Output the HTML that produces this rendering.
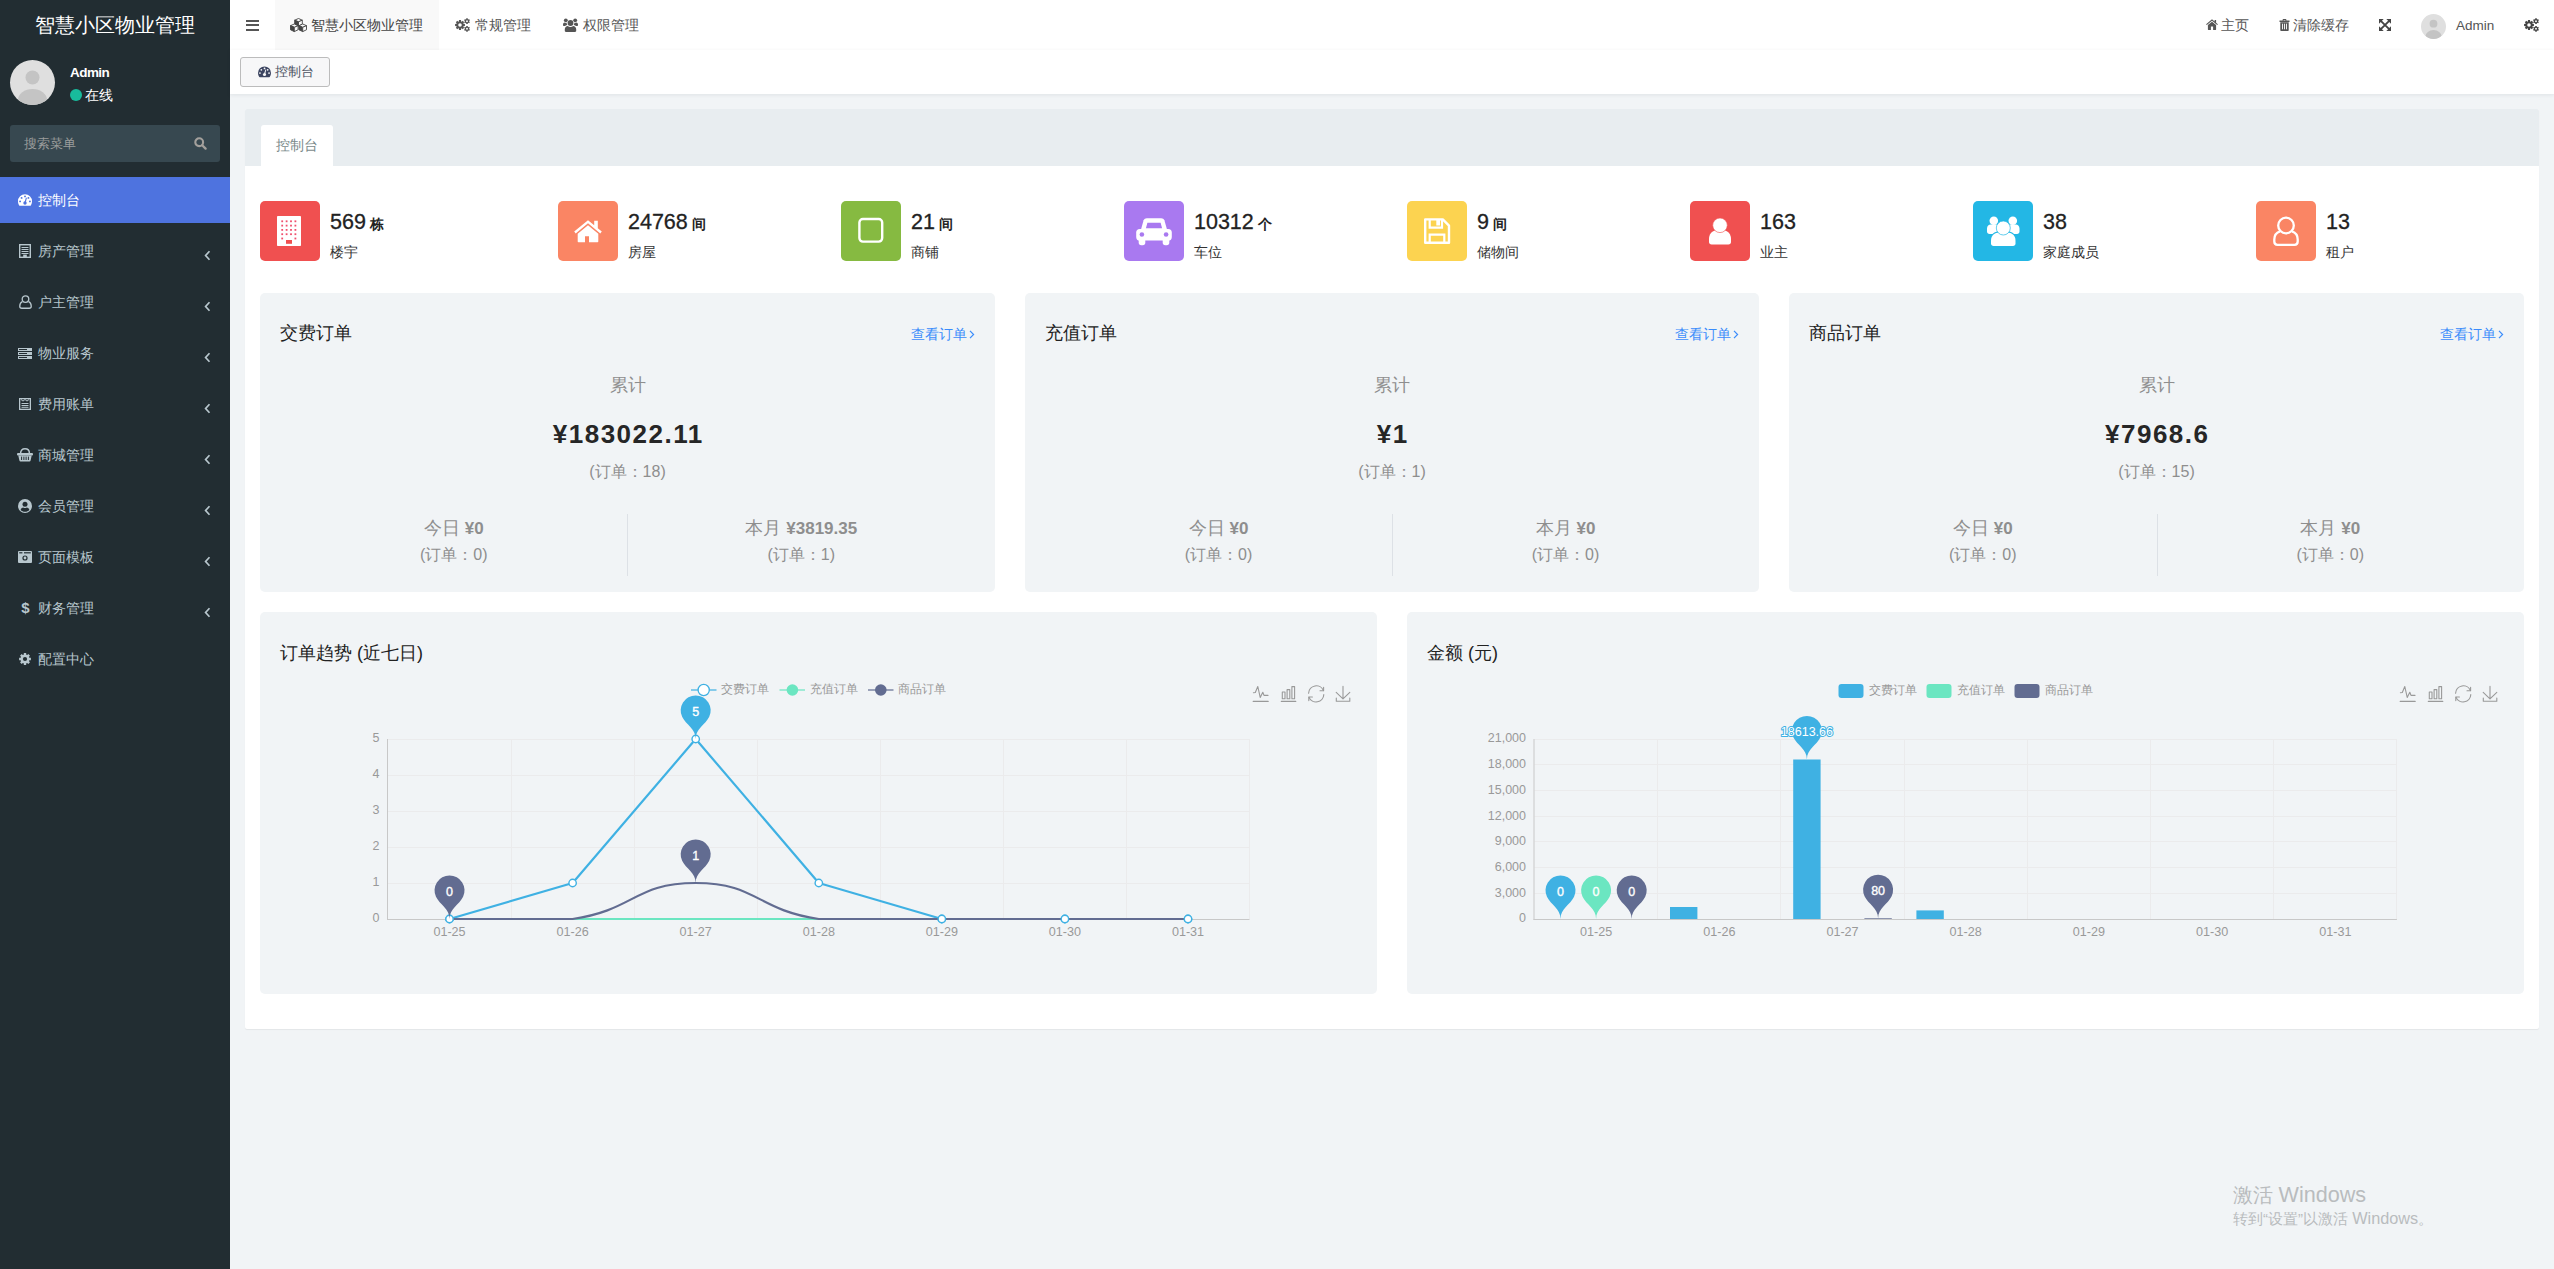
<!DOCTYPE html>
<html><head><meta charset="utf-8"><title>dashboard</title><style>
*{box-sizing:border-box;margin:0;padding:0}
html,body{width:2554px;height:1269px;overflow:hidden}
body{font-family:"Liberation Sans",sans-serif;font-size:14px;color:#333;background:#f1f4f6;position:relative}
.abs{position:absolute}
.t{position:absolute;white-space:nowrap;line-height:1}
svg{position:absolute;overflow:visible}
#side{position:absolute;left:0;top:0;width:230px;height:1269px;background:#222d32}
#hdr{position:absolute;left:230px;top:0;width:2324px;height:50px;background:#fff}
#tabs{position:absolute;left:230px;top:50px;width:2324px;height:44px;background:#fff;box-shadow:0 1px 4px rgba(0,21,41,.08)}
.mi{position:absolute;left:0;width:230px;height:46px}
.mi .t{color:#b8c7ce;font-size:14px;left:37.5px;top:16px}
.mi.act{background:#4e73df}
.mi.act .t{color:#fff}
.card{position:absolute;background:#f1f4f6;border-radius:5px}
.ib{position:absolute;width:60px;height:60px;border-radius:5px;top:201px}
.num{position:absolute;white-space:nowrap;line-height:1;font-size:21.5px;color:#222;top:211.5px;-webkit-text-stroke:0.3px #222}
.num small{font-size:14px;font-weight:bold;margin-left:4px;-webkit-text-stroke:0}
.lab{position:absolute;white-space:nowrap;line-height:1;font-size:14px;color:#333;top:245px}
.g{color:#8e8e8e}
</style></head><body>
<div id="side">
<div class="t" style="left:35px;top:14.6px;font-size:20px;color:#fff;width:160px;text-align:center">智慧小区物业管理</div>
<div class="abs" style="left:10px;top:60px;width:45px;height:45px;border-radius:50%;overflow:hidden;background:#dfdfdf"><svg style="left:0;top:0" width="45" height="45" viewBox="0 0 45 45"><g fill="#c4c4c4"><circle cx="22.5" cy="17.5" r="7"/><ellipse cx="22.5" cy="40" rx="14.5" ry="11"/></g></svg></div>
<div class="t" style="left:70px;top:66px;font-size:13.5px;font-weight:bold;color:#fff;letter-spacing:-0.55px">Admin</div>
<div class="abs" style="left:70px;top:89px;width:12px;height:12px;border-radius:6px;background:#18bc9c"></div>
<div class="t" style="left:85px;top:88px;font-size:14px;color:#fff">在线</div>
<div class="abs" style="left:10px;top:125px;width:210px;height:37px;background:#374850;border-radius:3px"></div>
<div class="t" style="left:24px;top:137px;font-size:13px;color:#9b9d9c">搜索菜单</div>
<svg style="left:194px;top:137px" width="13" height="13" viewBox="0 0 13 13"><circle cx="5.2" cy="5.2" r="3.9" fill="none" stroke="#a3a09c" stroke-width="2.1"/><path d="M8.2 8.2L11.6 11.6" stroke="#a3a09c" stroke-width="2.3" stroke-linecap="round"/></svg>
<div class="mi act" style="top:177px"><svg style="left:18px;top:17px" width="14" height="12" viewBox="0 0 14 12"><path d="M7 0.3A7 7 0 0 0 0 7.3C0 8.9 0.45 10.3 1.2 11.4C1.35 11.65 1.6 11.8 1.9 11.8H12.1C12.4 11.8 12.65 11.65 12.8 11.4C13.55 10.3 14 8.9 14 7.3A7 7 0 0 0 7 0.3Z" fill="#fff"/><g fill="#4e73df"><circle cx="2.1" cy="7.4" r="0.95"/><circle cx="3.6" cy="3.9" r="0.95"/><circle cx="7" cy="2.4" r="0.95"/><circle cx="10.4" cy="3.9" r="0.95"/><circle cx="11.9" cy="7.4" r="0.95"/><circle cx="7" cy="9" r="1.7"/><path d="M6.5 8.2L8.0 3.6L8.9 3.9L7.7 8.6Z"/></g></svg><div class="t">控制台</div>
</div>
<div class="mi" style="top:228px"><svg style="left:19px;top:16px" width="12" height="14" viewBox="0 0 12 14"><rect x="0.7" y="0.7" width="10.6" height="12.6" fill="none" stroke="#b8c7ce" stroke-width="1.4"/><g stroke="#b8c7ce" stroke-width="1"><path d="M2.5 3.5 h7"/><path d="M2.5 5.5 h7"/><path d="M2.5 7.5 h7"/><path d="M2.5 9.5 h7"/></g><rect x="4.2" y="10.6" width="3.6" height="2.6" fill="#b8c7ce"/></svg><div class="t">房产管理</div>
<svg style="left:204px;top:22.4px" width="7" height="11" viewBox="0 0 7 11"><path d="M5.5 1.2L1.6 5.5L5.5 9.800" fill="none" stroke="#b8c7ce" stroke-width="1.700"/></svg>
</div>
<div class="mi" style="top:279px"><svg style="left:18.5px;top:16px" width="13" height="14" viewBox="0 0 13 14"><g fill="none" stroke="#b8c7ce" stroke-width="1.3"><circle cx="6.5" cy="4.1" r="3.3"/><path d="M3.4 6.6C1.6 7.3 0.75 9 0.75 11.2C0.75 12.5 1.6 13.25 2.8 13.25H10.2C11.4 13.25 12.25 12.5 12.25 11.2C12.25 9 11.4 7.3 9.6 6.6"/></g></svg><div class="t">户主管理</div>
<svg style="left:204px;top:22.4px" width="7" height="11" viewBox="0 0 7 11"><path d="M5.5 1.2L1.6 5.5L5.5 9.800" fill="none" stroke="#b8c7ce" stroke-width="1.700"/></svg>
</div>
<div class="mi" style="top:330px"><svg style="left:18px;top:17.5px" width="14" height="11" viewBox="0 0 14 11"><rect x="0" y="0" width="14" height="3" fill="#b8c7ce"/><rect x="1" y="1" width="8" height="1" fill="#222d32"/><rect x="0" y="4" width="14" height="3" fill="#b8c7ce"/><rect x="1" y="5" width="8" height="1" fill="#222d32"/><rect x="0" y="8" width="14" height="3" fill="#b8c7ce"/><rect x="1" y="9" width="8" height="1" fill="#222d32"/></svg><div class="t">物业服务</div>
<svg style="left:204px;top:22.4px" width="7" height="11" viewBox="0 0 7 11"><path d="M5.5 1.2L1.6 5.5L5.5 9.800" fill="none" stroke="#b8c7ce" stroke-width="1.700"/></svg>
</div>
<div class="mi" style="top:381px"><svg style="left:19px;top:17px" width="12" height="12" viewBox="0 0 12 12"><rect x="0.65" y="0.65" width="10.7" height="10.7" fill="none" stroke="#b8c7ce" stroke-width="1.3"/><path d="M2 1.5l2 1.6l2-1.6l2 1.6l2-1.6" fill="none" stroke="#b8c7ce" stroke-width="1"/><path d="M2.5 5.5h7M2.5 7.5h7M2.5 9.3h7" stroke="#b8c7ce" stroke-width="1"/></svg><div class="t">费用账单</div>
<svg style="left:204px;top:22.4px" width="7" height="11" viewBox="0 0 7 11"><path d="M5.5 1.2L1.6 5.5L5.5 9.800" fill="none" stroke="#b8c7ce" stroke-width="1.700"/></svg>
</div>
<div class="mi" style="top:432px"><svg style="left:17px;top:16.3px" width="16" height="13.5" viewBox="0 0 16 13.5"><path d="M3.6 5.2C3.6 2.3 5.2 0.8 8 0.8S12.4 2.3 12.4 5.2" fill="none" stroke="#b8c7ce" stroke-width="1.5"/><rect x="0" y="5" width="16" height="2.4" rx="1" fill="#b8c7ce"/><path d="M1.3 7.4H14.7L13.6 12.6C13.5 13.2 13 13.5 12.5 13.5H3.5C3 13.5 2.5 13.2 2.4 12.6Z" fill="#b8c7ce"/><g stroke="#222d32" stroke-width="1"><path d="M4.6 8.6v3.4M6.9 8.6v3.4M9.1 8.6v3.4M11.4 8.6v3.4"/></g></svg><div class="t">商城管理</div>
<svg style="left:204px;top:22.4px" width="7" height="11" viewBox="0 0 7 11"><path d="M5.5 1.2L1.6 5.5L5.5 9.800" fill="none" stroke="#b8c7ce" stroke-width="1.700"/></svg>
</div>
<div class="mi" style="top:483px"><svg style="left:18px;top:16px" width="14" height="14" viewBox="0 0 14 14"><circle cx="7" cy="7" r="7" fill="#b8c7ce"/><circle cx="7" cy="5.3" r="2.5" fill="#222d32"/><path d="M2.6 10.9C3 9.3 4.2 8.6 5.2 8.5C5.7 8.9 6.3 9.1 7 9.1S8.3 8.9 8.8 8.5C9.8 8.6 11 9.3 11.4 10.9C10.3 12 8.8 12.7 7 12.7S3.7 12 2.6 10.9Z" fill="#222d32"/></svg><div class="t">会员管理</div>
<svg style="left:204px;top:22.4px" width="7" height="11" viewBox="0 0 7 11"><path d="M5.5 1.2L1.6 5.5L5.5 9.800" fill="none" stroke="#b8c7ce" stroke-width="1.700"/></svg>
</div>
<div class="mi" style="top:534px"><svg style="left:18px;top:17px" width="14" height="12" viewBox="0 0 14 12"><rect x="0" y="0" width="14" height="12" rx="1" fill="#b8c7ce"/><rect x="1.2" y="1.2" width="3.2" height="1.2" fill="#222d32"/><rect x="6" y="1.2" width="6.8" height="1.2" fill="#222d32"/><rect x="0" y="3.2" width="14" height="0.8" fill="#222d32" opacity="0.0"/><circle cx="7" cy="7" r="2.6" fill="#222d32"/><circle cx="7" cy="7" r="1.4" fill="#b8c7ce"/><rect x="0" y="10.3" width="14" height="0.7" fill="#222d32" opacity="0.0"/></svg><div class="t">页面模板</div>
<svg style="left:204px;top:22.4px" width="7" height="11" viewBox="0 0 7 11"><path d="M5.5 1.2L1.6 5.5L5.5 9.800" fill="none" stroke="#b8c7ce" stroke-width="1.700"/></svg>
</div>
<div class="mi" style="top:585px"><svg style="left:21px;top:16px" width="9" height="14" viewBox="0 0 9 14"><text x="4.5" y="12.2" font-family="Liberation Sans, sans-serif" font-weight="bold" font-size="15" fill="#b8c7ce" text-anchor="middle">$</text></svg><div class="t">财务管理</div>
<svg style="left:204px;top:22.4px" width="7" height="11" viewBox="0 0 7 11"><path d="M5.5 1.2L1.6 5.5L5.5 9.800" fill="none" stroke="#b8c7ce" stroke-width="1.700"/></svg>
</div>
<div class="mi" style="top:636px"><svg style="left:19px;top:17px" width="12" height="12" viewBox="0 0 12 12"><path d="M4.87 0.11L7.13 0.11L7.29 1.69L8.14 2.04L9.37 1.03L10.97 2.63L9.96 3.86L10.31 4.71L11.89 4.87L11.89 7.13L10.31 7.29L9.96 8.14L10.97 9.37L9.37 10.97L8.14 9.96L7.29 10.31L7.13 11.89L4.87 11.89L4.71 10.31L3.86 9.96L2.63 10.97L1.03 9.37L2.04 8.14L1.69 7.29L0.11 7.13L0.11 4.87L1.69 4.71L2.04 3.86L1.03 2.63L2.63 1.03L3.86 2.04L4.71 1.69Z" fill="#b8c7ce"/><circle cx="6" cy="6" r="2.1" fill="#222d32"/></svg><div class="t">配置中心</div>
</div>
</div>
<div id="hdr">
<div class="abs" style="left:45px;top:0;width:164px;height:50px;background:#f9f9f9"></div>
<div class="abs" style="left:16px;top:20px;width:13px;height:2px;background:#555"></div>
<div class="abs" style="left:16px;top:24px;width:13px;height:2px;background:#555"></div>
<div class="abs" style="left:16px;top:29px;width:13px;height:2px;background:#555"></div>
<svg style="left:60px;top:18px" width="17" height="14" viewBox="0 0 17 14"><path d="M8.50 0.50 L12.30 2.17 L8.50 3.84 L4.70 2.17 Z" fill="#f9f9f9" stroke="#444" stroke-width="0.9" stroke-linejoin="round"/><path d="M4.70 2.17 L8.50 3.84 L8.50 8.10 L4.70 6.28 Z" fill="#444" stroke="#444" stroke-width="0.9" stroke-linejoin="round"/><path d="M12.30 2.17 L8.50 3.84 L8.50 8.10 L12.30 6.28 Z" fill="#f9f9f9" stroke="#444" stroke-width="0.9" stroke-linejoin="round"/><path d="M4.30 6.00 L8.10 7.67 L4.30 9.34 L0.50 7.67 Z" fill="#f9f9f9" stroke="#444" stroke-width="0.9" stroke-linejoin="round"/><path d="M0.50 7.67 L4.30 9.34 L4.30 13.60 L0.50 11.78 Z" fill="#444" stroke="#444" stroke-width="0.9" stroke-linejoin="round"/><path d="M8.10 7.67 L4.30 9.34 L4.30 13.60 L8.10 11.78 Z" fill="#f9f9f9" stroke="#444" stroke-width="0.9" stroke-linejoin="round"/><path d="M12.70 6.00 L16.50 7.67 L12.70 9.34 L8.90 7.67 Z" fill="#f9f9f9" stroke="#444" stroke-width="0.9" stroke-linejoin="round"/><path d="M8.90 7.67 L12.70 9.34 L12.70 13.60 L8.90 11.78 Z" fill="#444" stroke="#444" stroke-width="0.9" stroke-linejoin="round"/><path d="M16.50 7.67 L12.70 9.34 L12.70 13.60 L16.50 11.78 Z" fill="#f9f9f9" stroke="#444" stroke-width="0.9" stroke-linejoin="round"/></svg><svg style="left:225px;top:18px" width="15" height="14" viewBox="0 0 15 14"><path d="M4.01 2.10L5.99 2.10L6.16 3.49L6.66 3.69L7.76 2.83L9.17 4.24L8.31 5.34L8.51 5.84L9.90 6.01L9.90 7.99L8.51 8.16L8.31 8.66L9.17 9.76L7.76 11.17L6.66 10.31L6.16 10.51L5.99 11.90L4.01 11.90L3.84 10.51L3.34 10.31L2.24 11.17L0.83 9.76L1.69 8.66L1.49 8.16L0.10 7.99L0.10 6.01L1.49 5.84L1.69 5.34L0.83 4.24L2.24 2.83L3.34 3.69L3.84 3.49Z" fill="#555"/><circle cx="5" cy="7" r="1.8" fill="#fff"/><path d="M11.21 0.31L12.79 0.31L12.79 1.26L13.29 1.54L14.11 1.07L14.90 2.44L14.08 2.91L14.08 3.49L14.90 3.96L14.11 5.33L13.29 4.86L12.79 5.14L12.79 6.09L11.21 6.09L11.21 5.14L10.71 4.86L9.89 5.33L9.10 3.96L9.92 3.49L9.92 2.91L9.10 2.44L9.89 1.07L10.71 1.54L11.21 1.26Z" fill="#555"/><circle cx="12" cy="3.2" r="0.95" fill="#fff"/><path d="M11.21 7.91L12.79 7.91L12.79 8.86L13.29 9.14L14.11 8.67L14.90 10.04L14.08 10.51L14.08 11.09L14.90 11.56L14.11 12.93L13.29 12.46L12.79 12.74L12.79 13.69L11.21 13.69L11.21 12.74L10.71 12.46L9.89 12.93L9.10 11.56L9.92 11.09L9.92 10.51L9.10 10.04L9.89 8.67L10.71 9.14L11.21 8.86Z" fill="#555"/><circle cx="12" cy="10.8" r="0.95" fill="#fff"/></svg><svg style="left:333px;top:18px" width="15" height="14" viewBox="0 0 15 14"><g fill="#555"><circle cx="7.5" cy="5" r="2.9"/><path d="M2.9 14C2.2 14 1.8 13.5 1.8 12.8V11.2C1.8 9.2 3.2 8 4.8 7.9C5.5 8.6 6.4 9 7.5 9S9.5 8.6 10.2 7.9C11.8 8 13.2 9.2 13.2 11.2V12.8C13.2 13.5 12.8 14 12.1 14Z"/><circle cx="2.8" cy="2.3" r="1.9"/><circle cx="12.2" cy="2.3" r="1.9"/><path d="M0 6.6C0 5.2 0.9 4.5 1.7 4.5C2.2 4.9 2.9 5 3.6 4.8C3.6 5.6 3.9 6.5 4.4 7.1C3.4 7.2 2.6 7.6 2.1 8.1H1C0.4 8.100 0 7.7 0 7.1Z"/><path d="M15 6.6C15 5.2 14.1 4.5 13.3 4.5C12.8 4.9 12.1 5 11.4 4.8C11.4 5.6 11.1 6.5 10.6 7.1C11.6 7.2 12.4 7.6 12.9 8.1H14C14.6 8.1 15 7.7 15 7.1Z"/></g></svg><svg style="left:1976px;top:19px" width="12" height="11" viewBox="0 0 12 11"><g fill="#555"><path d="M6 2.7L1.9 6.1V10.4C1.9 10.7 2.1 10.9 2.4 10.9H4.9V7.6H7.1V10.9H9.6C9.900 10.9 10.1 10.7 10.1 10.4V6.1Z"/><path d="M6 0.3L0.1 5.2L0.800 6L6 1.700L11.2 6L11.9 5.2L10.1 3.700V0.9H8.6V2.4Z"/></g></svg><svg style="left:2049px;top:19px" width="11" height="12" viewBox="0 0 11 12"><g fill="#555"><path d="M3.600 1.100C3.600 0.500 4.100 0.100 4.600 0.100H6.400C6.900 0.100 7.400 0.500 7.400 1.100V1.600H10.5V2.900H0.5V1.600H3.600ZM4.600 1.600H6.400V1.100H4.600Z"/><path d="M1.300 3.300H9.700V11C9.700 11.6 9.300 12 8.700 12H2.300C1.700 12 1.300 11.6 1.300 11Z"/></g><g fill="#fff"><rect x="3.100" y="4.700" width="0.9" height="5.6"/><rect x="5.050" y="4.700" width="0.9" height="5.6"/><rect x="7.000" y="4.700" width="0.9" height="5.6"/></g></svg><svg style="left:2149px;top:19px" width="12" height="12" viewBox="0 0 12 12"><g fill="#444"><path d="M0 0H4.700L0 4.700Z"/><path d="M12 0V4.700L7.300 0Z"/><path d="M0 12V7.300L4.700 12Z"/><path d="M12 12H7.300L12 7.300Z"/></g><path d="M1.800 1.800L10.200 10.200M10.200 1.800L1.800 10.200" stroke="#444" stroke-width="1.900" fill="none"/></svg><svg style="left:2294px;top:18px" width="15" height="14" viewBox="0 0 15 14"><path d="M4.01 2.10L5.99 2.10L6.16 3.49L6.66 3.69L7.76 2.83L9.17 4.24L8.31 5.34L8.51 5.84L9.90 6.01L9.90 7.99L8.51 8.16L8.31 8.66L9.17 9.76L7.76 11.17L6.66 10.31L6.16 10.51L5.99 11.90L4.01 11.90L3.84 10.51L3.34 10.31L2.24 11.17L0.83 9.76L1.69 8.66L1.49 8.16L0.10 7.99L0.10 6.01L1.49 5.84L1.69 5.34L0.83 4.24L2.24 2.83L3.34 3.69L3.84 3.49Z" fill="#444"/><circle cx="5" cy="7" r="1.8" fill="#fff"/><path d="M11.21 0.31L12.79 0.31L12.79 1.26L13.29 1.54L14.11 1.07L14.90 2.44L14.08 2.91L14.08 3.49L14.90 3.96L14.11 5.33L13.29 4.86L12.79 5.14L12.79 6.09L11.21 6.09L11.21 5.14L10.71 4.86L9.89 5.33L9.10 3.96L9.92 3.49L9.92 2.91L9.10 2.44L9.89 1.07L10.71 1.54L11.21 1.26Z" fill="#444"/><circle cx="12" cy="3.2" r="0.95" fill="#fff"/><path d="M11.21 7.91L12.79 7.91L12.79 8.86L13.29 9.14L14.11 8.67L14.90 10.04L14.08 10.51L14.08 11.09L14.90 11.56L14.11 12.93L13.29 12.46L12.79 12.74L12.79 13.69L11.21 13.69L11.21 12.74L10.71 12.46L9.89 12.93L9.10 11.56L9.92 11.09L9.92 10.51L9.10 10.04L9.89 8.67L10.71 9.14L11.21 8.86Z" fill="#444"/><circle cx="12" cy="10.8" r="0.95" fill="#fff"/></svg>
<div class="t" style="left:81px;top:18px;font-size:14px;color:#444">智慧小区物业管理</div>
<div class="t" style="left:245px;top:18px;font-size:14px;color:#555">常规管理</div>
<div class="t" style="left:353px;top:18px;font-size:14px;color:#555">权限管理</div>
<div class="t" style="left:1991px;top:18px;font-size:14px;color:#555">主页</div>
<div class="t" style="left:2063px;top:18px;font-size:14px;color:#555">清除缓存</div>
<div class="abs" style="left:2191px;top:14px;width:25px;height:25px;border-radius:50%;overflow:hidden;background:#dfdfdf"><svg style="left:0;top:0" width="25" height="25" viewBox="0 0 25 25"><g fill="#c4c4c4"><circle cx="12.5" cy="9.7" r="3.9"/><ellipse cx="12.5" cy="22.2" rx="8" ry="6.1"/></g></svg></div>
<div class="t" style="left:2226px;top:18.7px;font-size:13.5px;color:#555">Admin</div>
</div>
<div id="tabs">
<div class="abs" style="left:10px;top:7px;width:90px;height:30px;border:1px solid #bcbcbc;border-radius:3px;background:#f7f7f8"></div>
<svg style="left:27.5px;top:16px" width="13" height="11.5" viewBox="0 0 14 12"><path d="M7 0.3A7 7 0 0 0 0 7.3C0 8.9 0.45 10.3 1.2 11.4C1.35 11.65 1.6 11.8 1.9 11.8H12.1C12.4 11.8 12.65 11.65 12.8 11.4C13.55 10.3 14 8.9 14 7.3A7 7 0 0 0 7 0.3Z" fill="#3c4460"/><g fill="#f7f7f8"><circle cx="2.1" cy="7.4" r="0.95"/><circle cx="3.6" cy="3.9" r="0.95"/><circle cx="7" cy="2.4" r="0.95"/><circle cx="10.4" cy="3.9" r="0.95"/><circle cx="11.9" cy="7.4" r="0.95"/><circle cx="7" cy="9" r="1.7"/><path d="M6.5 8.2L8.0 3.6L8.9 3.9L7.7 8.6Z"/></g></svg><div class="t" style="left:45px;top:15px;font-size:13px;color:#495060">控制台</div>
</div>
<div class="abs" style="left:245px;top:109px;width:2294px;height:920px;background:#fff;border-radius:2px;box-shadow:0 1px 1px rgba(0,0,0,.06)"></div>
<div class="abs" style="left:245px;top:109px;width:2294px;height:57px;background:#e8edf0;border-radius:2px 2px 0 0"></div>
<div class="abs" style="left:261px;top:125px;width:72px;height:41px;background:#fff;border-radius:3px 3px 0 0"></div>
<div class="t" style="left:276px;top:138px;font-size:14px;color:#7b8a8b">控制台</div>
<div class="ib" style="left:260px;background:#f05050"><svg style="left:0px;top:0px" width="60" height="60" viewBox="0 0 60 60"><rect x="17" y="15" width="24" height="30" rx="0.8" fill="#fff"/><g fill="#f0506e"><rect x="21.3" y="19.4" width="1.800" height="1.800"/><rect x="25.7" y="19.4" width="1.800" height="1.800"/><rect x="30.1" y="19.4" width="1.800" height="1.800"/><rect x="34.5" y="19.4" width="1.800" height="1.800"/><rect x="21.3" y="23.7" width="1.800" height="1.800"/><rect x="25.7" y="23.7" width="1.800" height="1.800"/><rect x="30.1" y="23.7" width="1.800" height="1.800"/><rect x="34.5" y="23.7" width="1.800" height="1.800"/><rect x="21.3" y="28.0" width="1.800" height="1.800"/><rect x="25.7" y="28.0" width="1.800" height="1.800"/><rect x="30.1" y="28.0" width="1.800" height="1.800"/><rect x="34.5" y="28.0" width="1.800" height="1.800"/><rect x="21.3" y="32.3" width="1.800" height="1.800"/><rect x="25.7" y="32.3" width="1.800" height="1.800"/><rect x="30.1" y="32.3" width="1.800" height="1.800"/><rect x="34.5" y="32.3" width="1.800" height="1.800"/><rect x="21.3" y="36.6" width="1.800" height="1.800"/><rect x="34.5" y="36.6" width="1.800" height="1.800"/></g><rect x="26" y="39" width="6" height="3.800" fill="#f05050"/></svg></div>
<div class="num" style="left:330px">569<small>栋</small></div>
<div class="lab" style="left:330px">楼宇</div>
<div class="ib" style="left:558px;background:#fa8564"><svg style="left:0px;top:0px" width="60" height="60" viewBox="0 0 60 60"><g fill="#fff"><path d="M30 24.300L19.700 32.800V40.600C19.700 41 20 41.300 20.400 41.300H27V35.300H31V41.300H39.600C40 41.300 40.300 41 40.300 40.600V32.800Z"/><path d="M30 19.200L16.200 30.600L17.700 32.400L30 22.200L42.300 32.400L43.800 30.600L39.800 27.300V19.800H36.200V24.300Z"/></g></svg></div>
<div class="num" style="left:628px">24768<small>间</small></div>
<div class="lab" style="left:628px">房屋</div>
<div class="ib" style="left:841px;background:#86ba41"><svg style="left:0px;top:0px" width="60" height="60" viewBox="0 0 60 60"><rect x="18.400" y="18.000" width="22.800" height="22.600" rx="3.500" fill="none" stroke="#fff" stroke-width="2.400"/></svg></div>
<div class="num" style="left:911px">21<small>间</small></div>
<div class="lab" style="left:911px">商铺</div>
<div class="ib" style="left:1124px;background:#a979f0"><svg style="left:0px;top:0px" width="60" height="60" viewBox="0 0 60 60"><g fill="#fff"><path d="M19.600 19.300C20.200 17.900 21.300 17.200 22.800 17.200H37.200C38.700 17.200 39.800 17.900 40.400 19.300L43 28.500H17Z"/><rect x="12.200" y="28" width="35.600" height="11.500" rx="3.600"/><rect x="14.700" y="37" width="6.600" height="7.200" rx="2.600"/><rect x="38.700" y="37" width="6.600" height="7.200" rx="2.600"/></g><path d="M23.400 21.700H36.600L38.100 27.300H21.900Z" fill="#a979f0"/><circle cx="17.900" cy="33.500" r="2.300" fill="#a979f0"/><circle cx="42.100" cy="33.500" r="2.300" fill="#a979f0"/></svg></div>
<div class="num" style="left:1194px">10312<small>个</small></div>
<div class="lab" style="left:1194px">车位</div>
<div class="ib" style="left:1407px;background:#fcd350"><svg style="left:0px;top:0px" width="60" height="60" viewBox="0 0 60 60"><path d="M18.200 18.400H35.800L42 24.600V41.700H18.200Z" fill="none" stroke="#fff" stroke-width="2.400" stroke-linejoin="round"/><path d="M22.700 18.400V26.600H35V18.400" fill="none" stroke="#fff" stroke-width="2.200"/><rect x="29.300" y="19" width="3.700" height="5.500" fill="#fff"/><path d="M22.700 41.700V33.600H37.300V41.700" fill="none" stroke="#fff" stroke-width="2.200"/></svg></div>
<div class="num" style="left:1477px">9<small>间</small></div>
<div class="lab" style="left:1477px">储物间</div>
<div class="ib" style="left:1690px;background:#f05050"><svg style="left:0px;top:0px" width="60" height="60" viewBox="0 0 60 60"><g fill="#fff"><path d="M21.600 43.500C20 43.500 19 42.500 19 41V38C19 33.300 22 30 26 29.300H34C38 30 41 33.300 41 38V41C41 42.500 40 43.500 38.400 43.500Z"/><circle cx="30" cy="24.300" r="7.300" stroke="#f05050" stroke-width="0.6"/></g></svg></div>
<div class="num" style="left:1760px">163</div>
<div class="lab" style="left:1760px">业主</div>
<div class="ib" style="left:1973px;background:#23b7e5"><svg style="left:0px;top:0px" width="60" height="60" viewBox="0 0 60 60"><g fill="#fff"><circle cx="20.800" cy="19.800" r="4.300"/><circle cx="39.800" cy="19.800" r="4.300"/><path d="M14 27.500C14 24.800 16 23.500 17.500 23.500H24V30.500C22 31 20.500 31.800 19.500 33H16.500C15 33 14 32 14 30.500Z"/><path d="M46.500 27.500C46.500 24.800 44.500 23.500 43 23.500H36.500V30.500C38.500 31 40 31.800 41 33H44C45.500 33 46.500 32 46.500 30.500Z"/><path d="M20.500 45C19 45 18 44 18 42.500V39.500C18 35 21 32.300 24.500 31.800H36C39.500 32.300 42.500 35 42.500 39.500V42.500C42.500 44 41.500 45 40 45Z"/><circle cx="30.300" cy="27" r="7" stroke="#23b7e5" stroke-width="0.700"/></g></svg></div>
<div class="num" style="left:2043px">38</div>
<div class="lab" style="left:2043px">家庭成员</div>
<div class="ib" style="left:2256px;background:#fa8564"><svg style="left:0px;top:0px" width="60" height="60" viewBox="0 0 60 60"><g fill="none" stroke="#fff" stroke-width="2.300"><circle cx="30" cy="24.500" r="7.800"/><path d="M24 30.300C20.500 31.500 18.300 34.500 18.300 38.500V40.500C18.300 42.500 19.500 43.800 21.500 43.800H38.500C40.500 43.800 41.700 42.500 41.700 40.500V38.500C41.700 34.500 39.500 31.500 36 30.300"/></g></svg></div>
<div class="num" style="left:2326px">13</div>
<div class="lab" style="left:2326px">租户</div>
<div class="card" style="left:260px;top:293px;width:735px;height:299px">
<div class="t" style="left:20px;top:31px;font-size:18px;color:#222">交费订单</div>
<div class="t" style="right:28px;top:34px;font-size:14px;color:#3a8cfb">查看订单</div>
<svg style="right:20.2px;top:36.6px" width="5.5" height="9" viewBox="0 0 5.5 9"><path d="M1 0.8L4.6 4.5L1 8.2" fill="none" stroke="#3a8cfb" stroke-width="1.2"/></svg>
<div class="t g" style="left:0;width:735px;text-align:center;top:83px;font-size:18px">累计</div>
<div class="t" style="left:0;width:735px;text-align:center;top:128px;font-size:26px;font-weight:bold;color:#262626;letter-spacing:1.5px;text-indent:1.5px">¥183022.11</div>
<div class="t g" style="left:0;width:735px;text-align:center;top:171px;font-size:16px">(订单：18)</div>
<div class="abs" style="left:367.0px;top:221px;width:1px;height:62px;background:#dde1e6"></div>
<div class="t g" style="left:20px;width:347.5px;text-align:center;top:226px;font-size:18px">今日 <b style="font-size:17px">¥0</b></div>
<div class="t g" style="left:20px;width:347.5px;text-align:center;top:254px;font-size:16px">(订单：0)</div>
<div class="t g" style="left:367.5px;width:347.5px;text-align:center;top:226px;font-size:18px">本月 <b style="font-size:17px">¥3819.35</b></div>
<div class="t g" style="left:367.5px;width:347.5px;text-align:center;top:254px;font-size:16px">(订单：1)</div>
</div>
<div class="card" style="left:1025px;top:293px;width:734px;height:299px">
<div class="t" style="left:20px;top:31px;font-size:18px;color:#222">充值订单</div>
<div class="t" style="right:28px;top:34px;font-size:14px;color:#3a8cfb">查看订单</div>
<svg style="right:20.2px;top:36.6px" width="5.5" height="9" viewBox="0 0 5.5 9"><path d="M1 0.8L4.6 4.5L1 8.2" fill="none" stroke="#3a8cfb" stroke-width="1.2"/></svg>
<div class="t g" style="left:0;width:734px;text-align:center;top:83px;font-size:18px">累计</div>
<div class="t" style="left:0;width:734px;text-align:center;top:128px;font-size:26px;font-weight:bold;color:#262626;letter-spacing:1.5px;text-indent:1.5px">¥1</div>
<div class="t g" style="left:0;width:734px;text-align:center;top:171px;font-size:16px">(订单：1)</div>
<div class="abs" style="left:367.0px;top:221px;width:1px;height:62px;background:#dde1e6"></div>
<div class="t g" style="left:20px;width:347.0px;text-align:center;top:226px;font-size:18px">今日 <b style="font-size:17px">¥0</b></div>
<div class="t g" style="left:20px;width:347.0px;text-align:center;top:254px;font-size:16px">(订单：0)</div>
<div class="t g" style="left:367.0px;width:347.0px;text-align:center;top:226px;font-size:18px">本月 <b style="font-size:17px">¥0</b></div>
<div class="t g" style="left:367.0px;width:347.0px;text-align:center;top:254px;font-size:16px">(订单：0)</div>
</div>
<div class="card" style="left:1789px;top:293px;width:735px;height:299px">
<div class="t" style="left:20px;top:31px;font-size:18px;color:#222">商品订单</div>
<div class="t" style="right:28px;top:34px;font-size:14px;color:#3a8cfb">查看订单</div>
<svg style="right:20.2px;top:36.6px" width="5.5" height="9" viewBox="0 0 5.5 9"><path d="M1 0.8L4.6 4.5L1 8.2" fill="none" stroke="#3a8cfb" stroke-width="1.2"/></svg>
<div class="t g" style="left:0;width:735px;text-align:center;top:83px;font-size:18px">累计</div>
<div class="t" style="left:0;width:735px;text-align:center;top:128px;font-size:26px;font-weight:bold;color:#262626;letter-spacing:1.5px;text-indent:1.5px">¥7968.6</div>
<div class="t g" style="left:0;width:735px;text-align:center;top:171px;font-size:16px">(订单：15)</div>
<div class="abs" style="left:368.0px;top:221px;width:1px;height:62px;background:#dde1e6"></div>
<div class="t g" style="left:20px;width:347.5px;text-align:center;top:226px;font-size:18px">今日 <b style="font-size:17px">¥0</b></div>
<div class="t g" style="left:20px;width:347.5px;text-align:center;top:254px;font-size:16px">(订单：0)</div>
<div class="t g" style="left:367.5px;width:347.5px;text-align:center;top:226px;font-size:18px">本月 <b style="font-size:17px">¥0</b></div>
<div class="t g" style="left:367.5px;width:347.5px;text-align:center;top:254px;font-size:16px">(订单：0)</div>
</div>
<div class="card" style="left:260px;top:612px;width:1117px;height:382px"></div>
<div class="card" style="left:1407px;top:612px;width:1117px;height:382px"></div>
<div class="t" style="left:280px;top:644px;font-size:18px;color:#222">订单趋势 (近七日)</div>
<div class="t" style="left:1427px;top:644px;font-size:18px;color:#222">金额 (元)</div>
<svg style="left:0;top:0" width="2554" height="1269" viewBox="0 0 2554 1269" font-family="Liberation Sans, sans-serif"><path d="M388.0 883.5 H1249.5" stroke="#ebebec" stroke-width="1"/><path d="M388.0 847.5 H1249.5" stroke="#ebebec" stroke-width="1"/><path d="M388.0 811.5 H1249.5" stroke="#ebebec" stroke-width="1"/><path d="M388.0 775.5 H1249.5" stroke="#ebebec" stroke-width="1"/><path d="M388.0 739.5 H1249.5" stroke="#ebebec" stroke-width="1"/><path d="M511.5 739.0 V919.0" stroke="#ebebec" stroke-width="1"/><path d="M634.5 739.0 V919.0" stroke="#ebebec" stroke-width="1"/><path d="M757.5 739.0 V919.0" stroke="#ebebec" stroke-width="1"/><path d="M880.5 739.0 V919.0" stroke="#ebebec" stroke-width="1"/><path d="M1003.5 739.0 V919.0" stroke="#ebebec" stroke-width="1"/><path d="M1126.5 739.0 V919.0" stroke="#ebebec" stroke-width="1"/><path d="M1249.5 739.0 V919.0" stroke="#ebebec" stroke-width="1"/><path d="M387.5 739.0 V920.0" stroke="#c8c8c8" stroke-width="1"/><path d="M387.0 919.5 H1249.5" stroke="#c8c8c8" stroke-width="1"/><text x="379.5" y="922.4" font-size="12.5" fill="#999" text-anchor="end">0</text><text x="379.5" y="886.4" font-size="12.5" fill="#999" text-anchor="end">1</text><text x="379.5" y="850.4" font-size="12.5" fill="#999" text-anchor="end">2</text><text x="379.5" y="814.4" font-size="12.5" fill="#999" text-anchor="end">3</text><text x="379.5" y="778.4" font-size="12.5" fill="#999" text-anchor="end">4</text><text x="379.5" y="742.4" font-size="12.5" fill="#999" text-anchor="end">5</text><text x="449.5" y="936.2" font-size="12.6" fill="#999" text-anchor="middle">01-25</text><text x="572.6" y="936.2" font-size="12.6" fill="#999" text-anchor="middle">01-26</text><text x="695.7" y="936.2" font-size="12.6" fill="#999" text-anchor="middle">01-27</text><text x="818.8" y="936.2" font-size="12.6" fill="#999" text-anchor="middle">01-28</text><text x="941.8" y="936.2" font-size="12.6" fill="#999" text-anchor="middle">01-29</text><text x="1064.9" y="936.2" font-size="12.6" fill="#999" text-anchor="middle">01-30</text><text x="1188.0" y="936.2" font-size="12.6" fill="#999" text-anchor="middle">01-31</text><path d="M691 690 h25.5" stroke="#3fb1e3" stroke-width="2" opacity="0.6"/><circle cx="703.7" cy="690" r="5.6" fill="#fff" stroke="#3fb1e3" stroke-width="1.3"/><text x="721" y="693" font-size="12" fill="#999">交费订单</text><path d="M779.5 690 h25.5" stroke="#6be6c1" stroke-width="2" opacity="0.6"/><circle cx="792.4" cy="690" r="5.8" fill="#6be6c1"/><text x="809.5" y="693" font-size="12" fill="#999">充值订单</text><path d="M868 690 h25.5" stroke="#626c91" stroke-width="2" opacity="0.6"/><circle cx="880.8" cy="690" r="5.8" fill="#626c91"/><text x="898" y="693" font-size="12" fill="#999">商品订单</text><g transform="translate(0.0 0)" fill="none" stroke="#999" stroke-width="1.1" stroke-linecap="round" stroke-linejoin="round"><path d="M1253.4 692.7 L1255.3 692.5 L1257.8 686.5 L1260.2 697.4 L1262.8 692.2 L1264 695.4 L1268 695.4"/><path d="M1253.2 701.4 H1268.2"/><rect x="1282.3" y="692" width="2.7" height="6.8"/><rect x="1287.1" y="689.6" width="2.7" height="9.2"/><rect x="1291.9" y="686.6" width="2.7" height="12.2"/><path d="M1281.3 701.4 H1295.8"/><path d="M1308.6 693.2 A7.7 7.7 0 0 1 1323.4 690.6"/><path d="M1323.6 687.2 V690.8 H1320"/><path d="M1323.8 694.6 A7.7 7.7 0 0 1 1309 697.2"/><path d="M1308.8 700.6 V697 H1312.4"/><path d="M1343 686.4 V698.4 M1336.2 692.4 L1343 698.8 L1349.8 692.4"/><path d="M1336.3 698 V701.3 H1349.8 V698"/></g><path d="M449.5 919.0 H1188.0" stroke="#6be6c1" stroke-width="2" fill="none"/><polyline points="449.5,919.0 572.6,883.0 695.7,739.0 818.8,883.0 941.8,919.0 1064.9,919.0 1188.0,919.0" stroke="#3fb1e3" stroke-width="2.2" fill="none" stroke-linejoin="round"/><circle cx="449.5" cy="919.0" r="3.7" fill="#fff" stroke="#3fb1e3" stroke-width="1.4"/><circle cx="572.6" cy="883.0" r="3.7" fill="#fff" stroke="#3fb1e3" stroke-width="1.4"/><circle cx="695.7" cy="739.0" r="3.7" fill="#fff" stroke="#3fb1e3" stroke-width="1.4"/><circle cx="818.8" cy="883.0" r="3.7" fill="#fff" stroke="#3fb1e3" stroke-width="1.4"/><circle cx="941.8" cy="919.0" r="3.7" fill="#fff" stroke="#3fb1e3" stroke-width="1.4"/><circle cx="1064.9" cy="919.0" r="3.7" fill="#fff" stroke="#3fb1e3" stroke-width="1.4"/><circle cx="1188.0" cy="919.0" r="3.7" fill="#fff" stroke="#3fb1e3" stroke-width="1.4"/><path d="M449.5 919.0 H572.6 C635.4 909.8 634.1 883.0 695.7 883.0 C757.2 883.0 756.0 909.8 818.8 919.0 H1188.0" stroke="#626c91" stroke-width="2.2" fill="none"/><circle cx="449.5" cy="919.0" r="3.7" fill="#fff" stroke="#3fb1e3" stroke-width="1.4"/><circle cx="941.8" cy="919.0" r="3.7" fill="#fff" stroke="#3fb1e3" stroke-width="1.4"/><circle cx="1064.9" cy="919.0" r="3.7" fill="#fff" stroke="#3fb1e3" stroke-width="1.4"/><circle cx="1188.0" cy="919.0" r="3.7" fill="#fff" stroke="#3fb1e3" stroke-width="1.4"/><path d="M682.13 716.86 A15.00 15.00 0 1 1 709.23 716.86 C705.37 724.99 695.68 728.50 695.68 739.00 C695.68 728.50 685.98 724.99 682.13 716.86 Z" fill="#3fb1e3"/><text x="695.7" y="715.6" font-size="12.5" fill="#fff" text-anchor="middle" stroke="#fff" stroke-width="0.35">5</text><path d="M682.13 860.86 A15.00 15.00 0 1 1 709.23 860.86 C705.37 868.99 695.68 872.50 695.68 883.00 C695.68 872.50 685.98 868.99 682.13 860.86 Z" fill="#626c91"/><text x="695.7" y="859.6" font-size="12.5" fill="#fff" text-anchor="middle" stroke="#fff" stroke-width="0.35">1</text><path d="M435.98 896.86 A15.00 15.00 0 1 1 463.09 896.86 C459.23 904.99 449.54 908.50 449.54 919.00 C449.54 908.50 439.84 904.99 435.98 896.86 Z" fill="#626c91"/><text x="449.5" y="895.6" font-size="12.5" fill="#fff" text-anchor="middle" stroke="#fff" stroke-width="0.35">0</text><path d="M1534.5 893.5 H2396.9" stroke="#ebebec" stroke-width="1"/><path d="M1534.5 867.5 H2396.9" stroke="#ebebec" stroke-width="1"/><path d="M1534.5 841.5 H2396.9" stroke="#ebebec" stroke-width="1"/><path d="M1534.5 816.5 H2396.9" stroke="#ebebec" stroke-width="1"/><path d="M1534.5 790.5 H2396.9" stroke="#ebebec" stroke-width="1"/><path d="M1534.5 764.5 H2396.9" stroke="#ebebec" stroke-width="1"/><path d="M1534.5 739.5 H2396.9" stroke="#ebebec" stroke-width="1"/><path d="M1657.5 739.0 V919.0" stroke="#ebebec" stroke-width="1"/><path d="M1780.5 739.0 V919.0" stroke="#ebebec" stroke-width="1"/><path d="M1904.5 739.0 V919.0" stroke="#ebebec" stroke-width="1"/><path d="M2027.5 739.0 V919.0" stroke="#ebebec" stroke-width="1"/><path d="M2150.5 739.0 V919.0" stroke="#ebebec" stroke-width="1"/><path d="M2273.5 739.0 V919.0" stroke="#ebebec" stroke-width="1"/><path d="M2396.5 739.0 V919.0" stroke="#ebebec" stroke-width="1"/><path d="M1534.0 739.0 V920.0" stroke="#c8c8c8" stroke-width="1"/><path d="M1533.5 919.5 H2396.9" stroke="#c8c8c8" stroke-width="1"/><text x="1526.0" y="922.4" font-size="12.5" fill="#999" text-anchor="end">0</text><text x="1526.0" y="896.7" font-size="12.5" fill="#999" text-anchor="end">3,000</text><text x="1526.0" y="871.0" font-size="12.5" fill="#999" text-anchor="end">6,000</text><text x="1526.0" y="845.3" font-size="12.5" fill="#999" text-anchor="end">9,000</text><text x="1526.0" y="819.5" font-size="12.5" fill="#999" text-anchor="end">12,000</text><text x="1526.0" y="793.8" font-size="12.5" fill="#999" text-anchor="end">15,000</text><text x="1526.0" y="768.1" font-size="12.5" fill="#999" text-anchor="end">18,000</text><text x="1526.0" y="742.4" font-size="12.5" fill="#999" text-anchor="end">21,000</text><text x="1596.1" y="936.2" font-size="12.6" fill="#999" text-anchor="middle">01-25</text><text x="1719.3" y="936.2" font-size="12.6" fill="#999" text-anchor="middle">01-26</text><text x="1842.5" y="936.2" font-size="12.6" fill="#999" text-anchor="middle">01-27</text><text x="1965.7" y="936.2" font-size="12.6" fill="#999" text-anchor="middle">01-28</text><text x="2088.9" y="936.2" font-size="12.6" fill="#999" text-anchor="middle">01-29</text><text x="2212.1" y="936.2" font-size="12.6" fill="#999" text-anchor="middle">01-30</text><text x="2335.3" y="936.2" font-size="12.6" fill="#999" text-anchor="middle">01-31</text><rect x="1838.5" y="684" width="25" height="14" rx="3" fill="#3fb1e3"/><text x="1868.5" y="694" font-size="12" fill="#999">交费订单</text><rect x="1926.5" y="684" width="25" height="14" rx="3" fill="#6be6c1"/><text x="1956.5" y="694" font-size="12" fill="#999">充值订单</text><rect x="2014.5" y="684" width="25" height="14" rx="3" fill="#626c91"/><text x="2044.5" y="694" font-size="12" fill="#999">商品订单</text><g transform="translate(1147.0 0)" fill="none" stroke="#999" stroke-width="1.1" stroke-linecap="round" stroke-linejoin="round"><path d="M1253.4 692.7 L1255.3 692.5 L1257.8 686.5 L1260.2 697.4 L1262.8 692.2 L1264 695.4 L1268 695.4"/><path d="M1253.2 701.4 H1268.2"/><rect x="1282.3" y="692" width="2.7" height="6.8"/><rect x="1287.1" y="689.6" width="2.7" height="9.2"/><rect x="1291.9" y="686.6" width="2.7" height="12.2"/><path d="M1281.3 701.4 H1295.8"/><path d="M1308.6 693.2 A7.7 7.7 0 0 1 1323.4 690.6"/><path d="M1323.6 687.2 V690.8 H1320"/><path d="M1323.8 694.6 A7.7 7.7 0 0 1 1309 697.2"/><path d="M1308.8 700.6 V697 H1312.4"/><path d="M1343 686.4 V698.4 M1336.2 692.4 L1343 698.8 L1349.8 692.4"/><path d="M1336.3 698 V701.3 H1349.8 V698"/></g><rect x="1670.0" y="907.0" width="27.4" height="12.0" fill="#3fb1e3"/><rect x="1793.2" y="759.5" width="27.4" height="159.5" fill="#3fb1e3"/><rect x="1864.4" y="918.3" width="27.4" height="0.7" fill="#626c91"/><rect x="1916.4" y="910.4" width="27.4" height="8.6" fill="#3fb1e3"/><path d="M1546.96 896.86 A15.00 15.00 0 1 1 1574.06 896.86 C1570.20 904.99 1560.51 908.50 1560.51 919.00 C1560.51 908.50 1550.81 904.99 1546.96 896.86 Z" fill="#3fb1e3"/><text x="1560.5" y="895.6" font-size="12.5" fill="#fff" text-anchor="middle" stroke="#fff" stroke-width="0.35">0</text><path d="M1582.55 896.86 A15.00 15.00 0 1 1 1609.65 896.86 C1605.80 904.99 1596.10 908.50 1596.10 919.00 C1596.10 908.50 1586.40 904.99 1582.55 896.86 Z" fill="#6be6c1"/><text x="1596.1" y="895.6" font-size="12.5" fill="#fff" text-anchor="middle" stroke="#fff" stroke-width="0.35">0</text><path d="M1618.14 896.86 A15.00 15.00 0 1 1 1645.24 896.86 C1641.39 904.99 1631.69 908.50 1631.69 919.00 C1631.69 908.50 1622.00 904.99 1618.14 896.86 Z" fill="#626c91"/><text x="1631.7" y="895.6" font-size="12.5" fill="#fff" text-anchor="middle" stroke="#fff" stroke-width="0.35">0</text><path d="M1864.54 896.17 A15.00 15.00 0 1 1 1891.64 896.17 C1887.79 904.30 1878.09 907.81 1878.09 918.31 C1878.09 907.81 1868.40 904.30 1864.54 896.17 Z" fill="#626c91"/><text x="1878.1" y="894.9" font-size="12.5" fill="#fff" text-anchor="middle" stroke="#fff" stroke-width="0.35">80</text><path d="M1793.36 737.31 A15.00 15.00 0 1 1 1820.46 737.31 C1816.60 745.44 1806.91 748.95 1806.91 759.45 C1806.91 748.95 1797.21 745.44 1793.36 737.31 Z" fill="#3fb1e3"/><text x="1806.9" y="736.1" font-size="12.5" fill="#fff" text-anchor="middle" stroke="#3fb1e3" stroke-width="2" paint-order="stroke" stroke-linejoin="round">18613.66</text></svg>
<div class="t" style="left:2233px;top:1183.5px;font-size:20px;color:#b9bcbe">激活 <span style="font-size:21.6px">Windows</span></div>
<div class="t" style="left:2233px;top:1210px;font-size:15px;color:#b9bcbe">转到“设置”以激活 <span style="font-size:16.3px">Windows</span>。</div>
</body></html>
